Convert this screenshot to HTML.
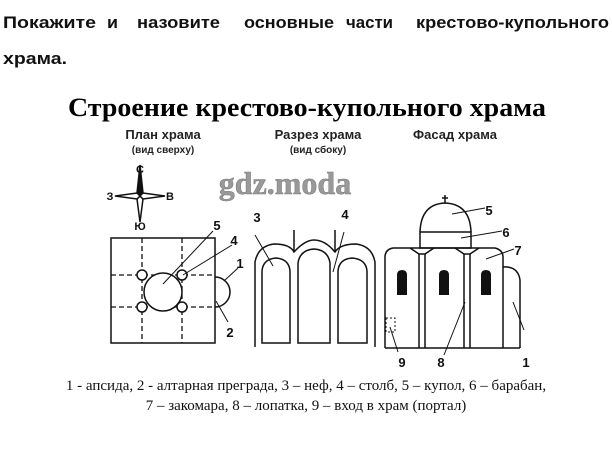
<!DOCTYPE html>
<html><head><meta charset="utf-8"><style>
body{margin:0;width:612px;height:455px;background:#fff;overflow:hidden}
svg{display:block}
</style></head><body>
<svg width="612" height="455" viewBox="0 0 612 455" xmlns="http://www.w3.org/2000/svg">
<g font-family="Liberation Sans, sans-serif" font-weight="bold" font-size="17" fill="#111">
<text x="3" y="28" textLength="93" lengthAdjust="spacingAndGlyphs">Покажите</text>
<text x="107" y="28" textLength="11" lengthAdjust="spacingAndGlyphs">и</text>
<text x="137" y="28" textLength="83" lengthAdjust="spacingAndGlyphs">назовите</text>
<text x="244" y="28" textLength="90" lengthAdjust="spacingAndGlyphs">основные</text>
<text x="346" y="28" textLength="47" lengthAdjust="spacingAndGlyphs">части</text>
<text x="416" y="28" textLength="193" lengthAdjust="spacingAndGlyphs">крестово-купольного</text>
<text x="3" y="64" textLength="64" lengthAdjust="spacingAndGlyphs">храма.</text>
</g>
<text x="307" y="116" text-anchor="middle" font-family="Liberation Serif, serif" font-weight="bold" font-size="26" textLength="478" lengthAdjust="spacingAndGlyphs">Строение крестово-купольного храма</text>
<g font-family="Liberation Sans, sans-serif" font-weight="bold" fill="#222" text-anchor="middle">
<text x="163" y="139" font-size="13">План храма</text>
<text x="163" y="153" font-size="10">(вид сверху)</text>
<text x="318" y="139" font-size="13">Разрез храма</text>
<text x="318" y="153" font-size="10">(вид сбоку)</text>
<text x="455" y="139" font-size="13">Фасад храма</text>
</g>
<text x="285" y="194" text-anchor="middle" font-family="Liberation Serif, serif" font-weight="bold" font-size="32" fill="#999" stroke="#777" stroke-width="0.5">gdz.moda</text>
<g stroke="#111" fill="none" stroke-width="1.5">
<polygon points="140,165 143,193 140,196 137,193" fill="#111"/>
<polygon points="140,196 143,199 140,222 137,199" fill="#fff"/>
<polygon points="115,196 137,193 140,196 137,199" fill="#fff"/>
<polygon points="165,196 143,193 140,196 143,199" fill="#fff"/>
<rect x="111" y="238" width="104" height="105"/>
<g stroke-dasharray="5,3" stroke-width="1.3">
<line x1="142" y1="238" x2="142" y2="343"/><line x1="182" y1="238" x2="182" y2="343"/>
<line x1="111" y1="275" x2="215" y2="275"/><line x1="111" y1="307" x2="215" y2="307"/>
</g>
<circle cx="163" cy="292" r="19" fill="#fff"/>
<circle cx="142" cy="275" r="5" fill="#fff"/><circle cx="182" cy="275" r="5" fill="#fff"/>
<circle cx="142" cy="307" r="5" fill="#fff"/><circle cx="182" cy="307" r="5" fill="#fff"/>
<path d="M215,277 A15,15 0 0 1 215,307"/>
<g stroke-width="1"><line x1="163" y1="284" x2="213" y2="231"/><line x1="183" y1="275" x2="232" y2="245"/>
<line x1="224" y1="281" x2="238" y2="268"/><line x1="216" y1="301" x2="228" y2="322"/></g>
<path d="M255,347 V262 Q258,246 274,244 Q290,244 294,252 Q305,240 314,240 Q325,240 335,252 Q340,244 356,244 Q372,246 375,262 V347"/>
<line x1="294" y1="252" x2="294" y2="230"/><line x1="335" y1="252" x2="335" y2="230"/>
<path d="M262,343 V271 Q263,259 276,258 Q289,259 290,271 V343 Z"/>
<path d="M298,343 V263 Q300,250 314,249 Q328,250 330,263 V343 Z"/>
<path d="M338,343 V271 Q339,259 352,258 Q366,259 367,271 V343 Z"/>
<g stroke-width="1"><line x1="255" y1="235" x2="273" y2="266"/><line x1="344" y1="232" x2="333" y2="272"/></g>
<rect x="420" y="232" width="51" height="16" fill="#fff"/>
<path d="M420,232 Q421,204 445,203 Q470,204 471,232"/>
<line x1="445" y1="203" x2="445" y2="195"/><line x1="442" y1="198" x2="448" y2="198"/>
<path d="M385,348 V256 Q386,249 393,248 L495,248 Q503,250 503,257 V348"/>
<path d="M410,248 L419,254 L425,254 L434,248"/>
<path d="M455,248 L464,254 L470,254 L479,248"/>
<line x1="385" y1="348" x2="520" y2="348"/>
<line x1="419" y1="254" x2="419" y2="348"/><line x1="425" y1="254" x2="425" y2="348"/>
<line x1="464" y1="254" x2="464" y2="348"/><line x1="470" y1="254" x2="470" y2="348"/>
<path d="M503,267 Q518,266 520,280 V348"/>
<rect x="386" y="318" width="9" height="14" stroke-dasharray="2,2" stroke-width="1"/>
<g stroke-width="1"><line x1="452" y1="214" x2="485" y2="208"/><line x1="461" y1="238" x2="502" y2="231"/>
<line x1="486" y1="259" x2="514" y2="249"/><line x1="513" y1="302" x2="524" y2="330"/>
<line x1="465" y1="302" x2="444" y2="355"/><line x1="390" y1="327" x2="398" y2="352"/></g>
</g>
<g fill="#111">
<path d="M397,295 V275 Q397,270 402,270 Q407,270 407,275 V295 Z"/>
<path d="M439,295 V275 Q439,270 444,270 Q449,270 449,275 V295 Z"/>
<path d="M481,295 V275 Q481,270 486,270 Q491,270 491,275 V295 Z"/>
</g>
<g font-family="Liberation Sans, sans-serif" font-weight="bold" font-size="13" fill="#111" text-anchor="middle">
<text x="140" y="173" font-size="11">С</text><text x="110" y="200" font-size="11">З</text>
<text x="170" y="200" font-size="11">В</text><text x="140" y="230" font-size="11">Ю</text>
<text x="217" y="230">5</text><text x="234" y="245">4</text><text x="240" y="268">1</text><text x="230" y="337">2</text>
<text x="257" y="222">3</text><text x="345" y="219">4</text>
<text x="489" y="215">5</text><text x="506" y="237">6</text><text x="518" y="255">7</text>
<text x="402" y="367">9</text><text x="441" y="367">8</text><text x="526" y="367">1</text>
</g>
<g font-family="Liberation Serif, serif" font-size="15" fill="#111" text-anchor="middle">
<text x="306" y="390">1 - апсида, 2 - алтарная преграда, 3 – неф, 4 – столб, 5 – купол, 6 – барабан,</text>
<text x="306" y="410">7 – закомара, 8 – лопатка, 9 – вход в храм (портал)</text>
</g>
</svg>
</body></html>
